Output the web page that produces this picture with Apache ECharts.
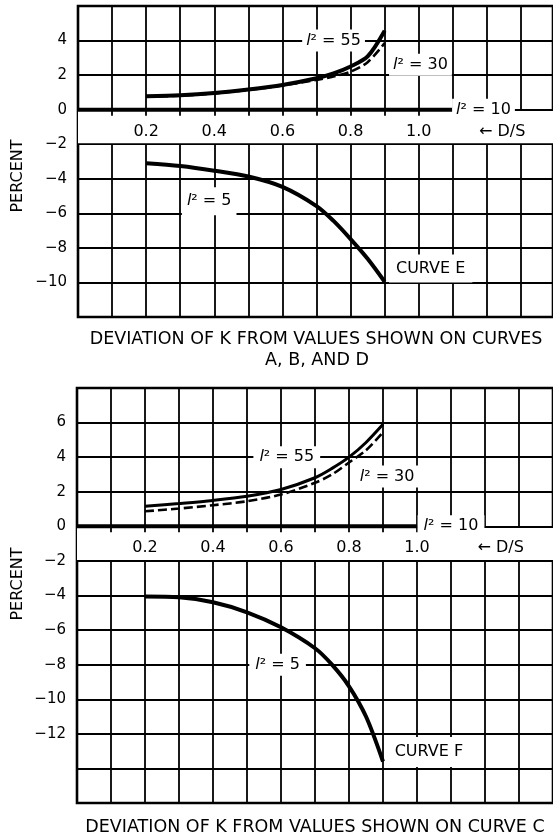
<!DOCTYPE html>
<html><head><meta charset="utf-8">
<script src="https://cdn.jsdelivr.net/npm/echarts@6/dist/echarts.min.js"></script>
<style>html,body{margin:0;padding:0;background:#fff}#c{width:553px;height:839px}</style>
</head><body><div id="c"></div>
<script>
// D/S values at which curves were read
const dsX = [0.2, 0.3, 0.4, 0.5, 0.6, 0.7, 0.75, 0.8, 0.85, 0.9];
// Upper chart (curve E)
const topL55 = [0.78, 0.84, 0.97, 1.17, 1.43, 1.82, 2.1, 2.5, 3.08, 4.57];
const topL30 = [0.75, 0.81, 0.94, 1.14, 1.4, 1.72, 1.92, 2.2, 2.75, 3.85];
const topL5  = [-3.1, -3.26, -3.53, -3.87, -4.47, -5.58, -6.44, -7.49, -8.63, -9.96];
const topL10X = [0, 1.1];
const topL10  = [0, 0];
// Lower chart (curve F)
const botL55 = [1.16, 1.32, 1.5, 1.74, 2.13, 2.81, 3.35, 4.0, 4.85, 5.9];
const botL30 = [0.87, 1.03, 1.22, 1.45, 1.84, 2.52, 3.0, 3.69, 4.4, 5.43];
const botL5  = [-4.06, -4.1, -4.39, -4.97, -5.84, -7.05, -8.0, -9.25, -11.0, -13.6];
const botL10X = [0, 1.0];
const botL10  = [0, 0];
// Tick labels
const xTickLabels = [0.2, 0.4, 0.6, 0.8, 1.0];
const xTickMarks = [0.1, 0.2, 0.3, 0.4, 0.5, 0.6, 0.7, 0.8, 0.9, 1.0];
const yTopLabels = [4, 2, 0, -2, -4, -6, -8, -10];
const yBotLabels = [6, 4, 2, 0, -2, -4, -6, -8, -10, -12];

const FONT = '"DejaVu Sans", "Liberation Sans", sans-serif';
const zip = (xs, ys) => xs.map((x, i) => [x, ys[i]]);
const fmtY = v => (v < 0 ? '\u2212' + Math.abs(v) : String(v));

const gridDefs = [
  {left: 78, top: 6, width: 478, height: 311, ymin: -12, ymax: 6, xmax: 1.394, ylabels: yTopLabels},
  {left: 77, top: 388, width: 479, height: 415, ymin: -16, ymax: 8, xmax: 1.4, ylabels: yBotLabels}
];

const grids = gridDefs.map(g => ({left: g.left, top: g.top, width: g.width, height: g.height,
  show: true, borderColor: '#000', borderWidth: 2.6, backgroundColor: 'transparent'}));

const xAxes = [], yAxes = [];
gridDefs.forEach((g, gi) => {
  // tick axis on the zero line
  xAxes.push({type: 'value', gridIndex: gi, min: 0, max: g.xmax, interval: 0.1, position: 'bottom', z: 10,
    axisLine: {show: true, onZero: true, lineStyle: {color: '#000', width: 1.8}},
    axisTick: {show: true, length: 6, inside: false, customValues: xTickMarks, lineStyle: {color: '#000', width: 1.8}},
    axisLabel: {show: false},
    splitLine: {show: false}});
  // grid-line axis
  xAxes.push({type: 'value', gridIndex: gi, min: 0, max: g.xmax, interval: 0.1, position: 'top', z: 0,
    axisLine: {show: false}, axisTick: {show: false}, axisLabel: {show: false},
    splitLine: {show: true, lineStyle: {color: '#000', width: 1.8}}});
  yAxes.push({type: 'value', gridIndex: gi, min: g.ymin, max: g.ymax, interval: 2,
    axisLine: {show: false}, axisTick: {show: false},
    axisLabel: {show: true, customValues: g.ylabels, margin: 11, color: '#000', fontSize: 15, fontFamily: FONT,
      formatter: fmtY},
    splitLine: {show: true, lineStyle: {color: '#000', width: 1.8}}});
});

const lblBase = {show: true, position: 'inside', color: '#000', fontSize: 16, fontFamily: FONT,
  backgroundColor: '#fff', padding: [3, 4],
  rich: {i: {fontStyle: 'italic', fontSize: 16, fontFamily: FONT, color: '#000'}}};
const ann = (coord, text, pad) => ({coord: coord, value: 0,
  label: Object.assign({}, lblBase, {formatter: text}, pad ? {padding: pad} : {})});
// x tick labels placed just below the zero line, in the blank band
const tickAnns = y => xTickLabels.map(v => ({coord: [v, y], value: v,
  label: Object.assign({}, lblBase, {formatter: v.toFixed(1), backgroundColor: 'transparent', padding: 0})}));

function markers(gi, anns) {
  const g = gridDefs[gi];
  return {
    markArea: {silent: true, z: 1, itemStyle: {color: '#fff'},
      data: [[{coord: [-0.012, -1.94]}, {coord: [g.xmax, -0.06]}]]},
    markPoint: {z: 20, symbol: 'circle', symbolSize: 1, itemStyle: {color: 'rgba(0,0,0,0)'},
      silent: true, data: anns}
  };
}

const lineS = (name, gi, data, width, dash) => ({
  name: name, type: 'line', xAxisIndex: gi * 2, yAxisIndex: gi, data: data,
  showSymbol: false, symbol: 'none', smooth: 0.3, silent: true,
  lineStyle: {color: '#000', width: width, type: dash || 'solid', cap: 'butt'}, z: 3
});

const series = [
  Object.assign(lineS('l2=10 top', 0, zip(topL10X, topL10), 4), {smooth: false},
    markers(0, tickAnns(-1.3).concat([
      ann([0.75, 4], '{i|l}² = 55'),
      ann([1.005, 2.6], '{i|l}² = 30'),
      ann([1.19, 0], '{i|l}² = 10'),
      ann([1.245, -1.3], '\u2190 D/S', [2, 2]),
      ann([0.385, -5.3], '{i|l}² = 5', [6, 5]),
      ann([1.035, -9.2], 'CURVE E', [6, 7])
    ]))),
  lineS('l2=30 top', 0, zip(dsX, topL30), 2.6, [9, 4]),
  lineS('l2=55 top', 0, zip(dsX, topL55), 4),
  lineS('l2=5 top', 0, zip(dsX, topL5), 4),
  Object.assign(lineS('l2=10 bottom', 1, zip(botL10X, botL10), 4), {smooth: false},
    markers(1, tickAnns(-1.25).concat([
      ann([0.617, 4], '{i|l}² = 55', [3, 6]),
      ann([0.912, 2.88], '{i|l}² = 30'),
      ann([1.10, 0], '{i|l}² = 10', [3, 6]),
      ann([1.246, -1.25], '\u2190 D/S', [2, 2]),
      ann([0.59, -8], '{i|l}² = 5', [3, 6]),
      ann([1.035, -13.05], 'CURVE F', [7, 7])
    ]))),
  lineS('l2=30 bottom', 1, zip(dsX, botL30), 2.6, [9, 4]),
  lineS('l2=55 bottom', 1, zip(dsX, botL55), 3),
  lineS('l2=5 bottom', 1, zip(dsX, botL5), 4)
];

const txt = (x, y, text, size, rot) => ({type: 'text', x: x, y: y, rotation: rot || 0, silent: true,
  style: {text: text, fill: '#000', fontSize: size, fontFamily: FONT,
    align: 'center', verticalAlign: 'middle', textAlign: 'center', textVerticalAlign: 'middle'}});

const chart = echarts.init(document.getElementById('c'), null, {renderer: 'canvas'});
chart.setOption({
  animation: false,
  backgroundColor: '#fff',
  grid: grids,
  xAxis: xAxes,
  yAxis: yAxes,
  series: series,
  graphic: [
    txt(18, 176, 'PERCENT', 16, Math.PI / 2),
    txt(18, 584, 'PERCENT', 16, Math.PI / 2),
    txt(316, 339, 'DEVIATION OF K FROM VALUES SHOWN ON CURVES', 17.5),
    txt(317, 360, 'A, B, AND D', 17.5),
    txt(315, 827, 'DEVIATION OF K FROM VALUES SHOWN ON CURVE C', 17.5)
  ]
});
</script></body></html>
